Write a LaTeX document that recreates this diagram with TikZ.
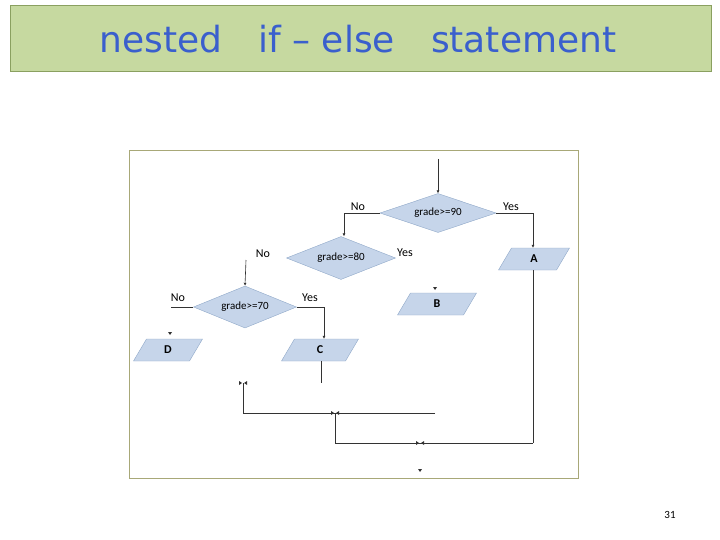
\documentclass[tikz,border=0pt]{standalone}
\usepackage{fontspec}
\setmainfont{Carlito}
\newfontfamily\titlefont{DejaVu Sans}
\usetikzlibrary{shapes.geometric,arrows.meta}
\definecolor{boxfill}{HTML}{C6D5EA}
\definecolor{boxline}{HTML}{8FA8C8}
\definecolor{titlefill}{HTML}{C6D9A0}
\definecolor{titleline}{HTML}{8AA060}
\definecolor{titleblue}{HTML}{3A5FCD}
\definecolor{frameline}{HTML}{A8A878}
\newcommand{\mypara}[5]{% name, x, y, half width, text
  \fill[boxfill,draw=boxline] (#2-#4+6.5,#3-11) -- (#2+#4+6.5,#3-11) -- (#2+#4-6.5,#3+11) -- (#2-#4-6.5,#3+11) -- cycle;
  \node[font=\bfseries\fontsize{12}{14}\selectfont,minimum width={2*#4},minimum height=22pt,inner sep=0pt] (#1) at (#2,#3) {#5};}
\begin{document}
\begin{tikzpicture}[x=1pt,y=-1pt,
  dec/.style={diamond,aspect=2.7,fill=boxfill,draw=boxline,inner sep=0pt,font=\fontsize{11}{12}\selectfont},
  lbl/.style={font=\fontsize{12}{14}\selectfont,inner sep=0pt},
  flow/.style={draw=black!80,line width=0.6pt},
  arr/.style={flow,-{Latex[length=3pt,width=3pt]}}]
\useasboundingbox (0,0) rectangle (720,540);
\node[draw=titleline,fill=titlefill,minimum width=701pt,minimum height=66pt,inner sep=0pt] (title) at (360.5,38) {};
\node[font=\titlefont\fontsize{36}{40}\selectfont,text=titleblue] (tt) at (358,39) {nested\quad if – else\quad statement};
\node[draw=frameline,line width=0.8pt,minimum width=449pt,minimum height=328pt,inner sep=0pt] (frame) at (353.5,314) {};
\node[font=\fontsize{11}{12}\selectfont] (pg) at (670,515) {31};
% decisions
\node[dec,minimum width=116pt,minimum height=39pt] (d90) at (438,213) {grade>=90};
\node[dec,minimum width=109pt,minimum height=43pt] (d80) at (341,258) {grade>=80};
\node[dec,minimum width=103pt,minimum height=42pt] (d70) at (245,307) {grade>=70};
% io
\mypara{A}{534}{259}{29}{A}
\mypara{B}{437}{304}{33}{B}
\mypara{C}{320}{350}{32}{C}
\mypara{D}{168}{350}{28}{D}
% labels
\node[lbl] (n90) at (358,207) {No};
\node[lbl] (y90) at (511,207) {Yes};
\node[lbl] (y80) at (405,253) {Yes};
\node[lbl] (n80) at (263,254) {No};
\node[lbl] (n70) at (178,298) {No};
\node[lbl] (y70) at (310,298) {Yes};
% coordinates
\coordinate (top) at (438,159);
\coordinate (c1) at (344,213);
\coordinate (c2) at (533,213);
\coordinate (c3) at (246,260);
\coordinate (c4) at (171,307);
\coordinate (c5) at (324,307);
\coordinate (c6) at (321,383);
\coordinate (m1) at (243,383);
\coordinate (m2) at (243,413);
\coordinate (m3) at (335,413);
\coordinate (m4) at (435,413);
\coordinate (m5) at (335,443);
\coordinate (m6) at (533,443);
\coordinate (m7) at (420,443);
\coordinate (m8) at (420,471);
% flows
\draw[arr] (top) -- (d90.north);
\draw[arr] (d90.west) -- (c1) -- (d80.north -| c1);
\draw[arr] (d90.east) -- (c2) -- (A.north -| c2);
\draw[arr] (c3) -- (d70.north);
\draw[flow] (d70.west) -- (c4);
\draw[arr] (d70.east) -- (c5) -- (C.north -| c5);
\draw[flow] (C.south -| c6) -- (c6);
\draw[flow] (m1) -- (m2) -- (m3);
\draw[flow] (m4) -- (m3) -- (m5) -- (m6);
\draw[flow] (A.south -| m6) -- (m6);
% small markers
\foreach \p in {m1,m3,m7}{
  \fill[black!80] (\p) ++(-4,-2) -- ++(3,2) -- ++(-3,2) -- cycle;
  \fill[black!80] (\p) ++(4,-2) -- ++(-3,2) -- ++(3,2) -- cycle;}
\coordinate (tb) at (435,289);
\coordinate (td) at (170,334);
\foreach \p in {tb,td,m8}{
  \fill[black!80] (\p) ++(-2,-2) -- ++(4,0) -- ++(-2,3) -- cycle;}
\end{tikzpicture}
\end{document}
